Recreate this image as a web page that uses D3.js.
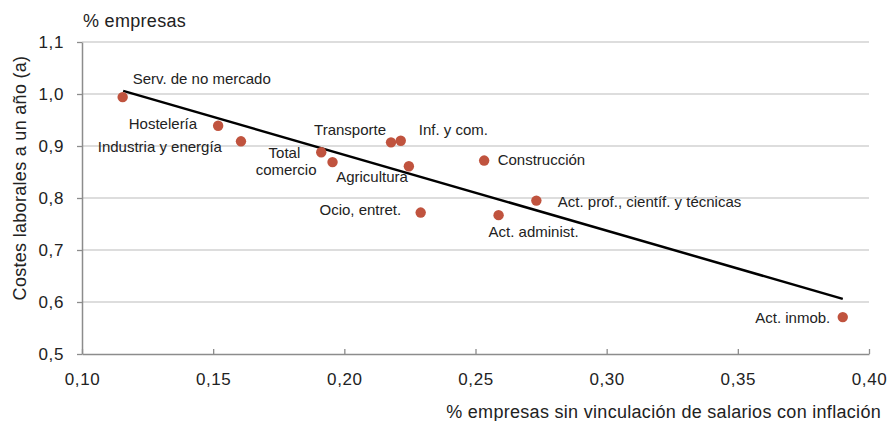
<!DOCTYPE html>
<html><head><meta charset="utf-8">
<script src="https://cdn.jsdelivr.net/npm/d3@7"></script>
<style>
body{margin:0;background:#fff;}
text{font-family:"Liberation Sans",Arial,sans-serif;fill:#222;}
</style></head>
<body><svg id="c" width="888" height="421"></svg>
<script>
const sectors = ["Serv. de no mercado","Hostelería","Industria y energía","Total","comercio","Transporte","Inf. y com.","Agricultura","Construcción","Ocio, entret.","Act. administ.","Act. prof., científ. y técnicas","Act. inmob."];
const pctNoIndex = [0.1155,0.1519,0.1606,0.1912,0.1955,0.2178,0.2215,0.2246,0.2533,0.2291,0.2588,0.2732,0.3900];
const laborCost = [0.994,0.939,0.909,0.888,0.869,0.907,0.910,0.861,0.872,0.772,0.767,0.795,0.571];
const trendX = [0.1157,0.3900];
const trendY = [1.006,0.606];
const xTicks = [0.10,0.15,0.20,0.25,0.30,0.35,0.40];
const yTicks = [0.5,0.6,0.7,0.8,0.9,1.0,1.1];

// label layout: [anchor, dx, baseline dy]
const labelPos = [
  ["start",10,-13],["end",-21,3],["end",-19,11],["end",-21,5.5],["end",-16,12.5],
  ["end",-5,-7],["start",18,-5.5],["end",-1,15.5],["start",13.5,4],["end",-19.5,2],
  ["start",-10,21.5],["start",21.5,6],["end",-12.5,6]
];

const svg = d3.select("#c");
const m = {l:82,r:869,t:42,b:354};
const x = d3.scaleLinear().domain([0.10,0.40]).range([m.l,m.r]);
const y = d3.scaleLinear().domain([0.5,1.1]).range([m.b,m.t]);
const fmt = d => d3.format(".2f")(d).replace(".",",");
const fmtY = d => d3.format(".1f")(d).replace(".",",");

// gridlines
svg.append("g").selectAll("line").data(yTicks.slice(1)).join("line")
  .attr("x1",m.l).attr("x2",m.r).attr("y1",d=>y(d)).attr("y2",d=>y(d))
  .attr("stroke","#d2d2d2").attr("stroke-width",1.3);

// y axis
const ya = svg.append("g").attr("transform",`translate(${m.l},0)`)
  .call(d3.axisLeft(y).tickValues(yTicks).tickFormat(fmtY).tickSize(5).tickSizeOuter(0).tickPadding(13));
ya.select(".domain").attr("stroke","#8c8c8c").attr("stroke-width",1.5);
ya.selectAll(".tick line").attr("stroke","#8c8c8c").attr("stroke-width",1.3);
ya.selectAll(".tick text").style("font-size","17px").style("letter-spacing","0.6px").style("font-family","Liberation Sans, Arial").attr("fill","#222");

// x axis
const xa = svg.append("g").attr("transform",`translate(0,${m.b})`)
  .call(d3.axisBottom(x).tickValues(xTicks).tickFormat(fmt).tickSize(-5).tickSizeOuter(0).tickPadding(19));
xa.select(".domain").attr("stroke","#8c8c8c").attr("stroke-width",1.5);
xa.selectAll(".tick line").attr("stroke","#8c8c8c").attr("stroke-width",1.3);
xa.selectAll(".tick text").style("font-size","17px").style("letter-spacing","0.6px").style("font-family","Liberation Sans, Arial").attr("fill","#222");

// trend line
const line = d3.line().x(d=>x(d[0])).y(d=>y(d[1]));
svg.append("path").datum(trendX.map((v,i)=>[v,trendY[i]]))
  .attr("d",line).attr("stroke","#000").attr("stroke-width",2.5).attr("fill","none");

// points
const data = sectors.map((s,i)=>({s,x:pctNoIndex[i],y:laborCost[i],p:labelPos[i]}));
svg.append("g").selectAll("circle").data(data).join("circle")
  .attr("cx",d=>x(d.x)).attr("cy",d=>y(d.y)).attr("r",5.2).attr("fill","#c0533e");

svg.append("g").selectAll("text").data(data).join("text")
  .attr("x",d=>x(d.x)+d.p[1]).attr("y",d=>y(d.y)+d.p[2])
  .attr("text-anchor",d=>d.p[0]).style("font-size","15px").text(d=>d.s);

// titles
svg.append("text").attr("x",83).attr("y",27).style("font-size","18px").style("letter-spacing","0.3px").text("% empresas");
svg.append("text").attr("transform","translate(26,178) rotate(-90)").attr("text-anchor","middle")
  .style("font-size","18px").style("letter-spacing","0.3px").text("Costes laborales a un año (a)");
svg.append("text").attr("x",881).attr("y",418).attr("text-anchor","end")
  .style("font-size","18px").style("letter-spacing","0.3px").text("% empresas sin vinculación de salarios con inflación");
</script></body></html>
